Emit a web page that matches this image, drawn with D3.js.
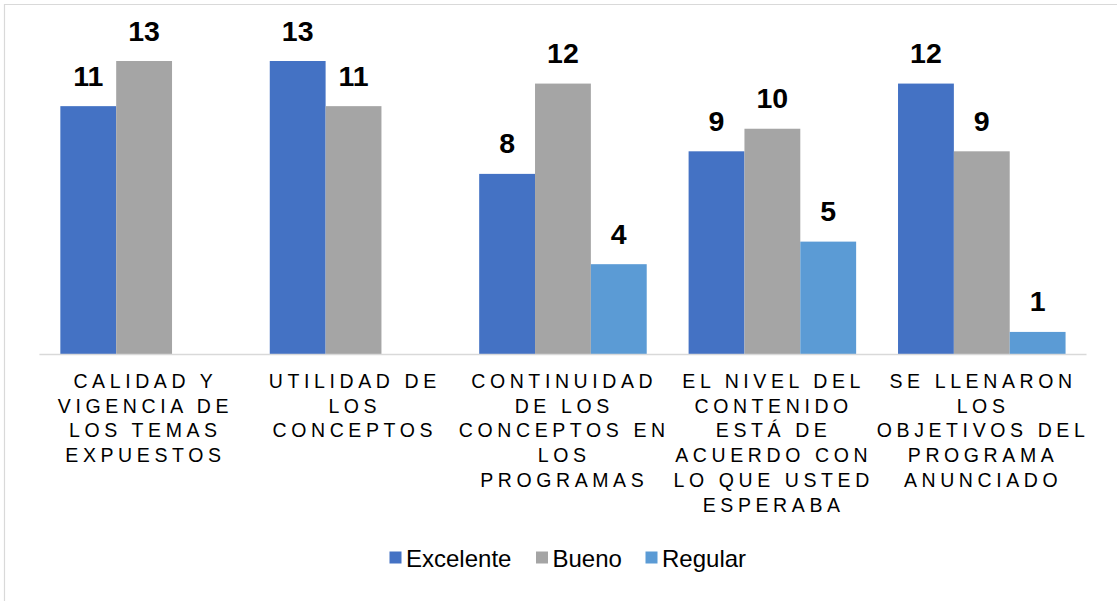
<!DOCTYPE html>
<html>
<head>
<meta charset="utf-8">
<script src="https://cdn.jsdelivr.net/npm/d3@7"></script>
<style>
  html, body { margin: 0; padding: 0; background: #ffffff; }
  svg { display: block; }
</style>
</head>
<body>
<svg id="chart" width="1117" height="601"></svg>
<script>
const categories = [
  "CALIDAD Y\nVIGENCIA DE\nLOS TEMAS\nEXPUESTOS",
  "UTILIDAD DE\nLOS\nCONCEPTOS",
  "CONTINUIDAD\nDE LOS\nCONCEPTOS EN\nLOS\nPROGRAMAS",
  "EL NIVEL DEL\nCONTENIDO\nESTÁ DE\nACUERDO CON\nLO QUE USTED\nESPERABA",
  "SE LLENARON\nLOS\nOBJETIVOS DEL\nPROGRAMA\nANUNCIADO"
];
const seriesNames = ["Excelente", "Bueno", "Regular"];
const excelente = [11, 13, 8, 9, 12];
const bueno = [13, 11, 12, 10, 9];
const regular = [null, null, 4, 5, 1];
const seriesValues = [excelente, bueno, regular];
const colors = ["#4472C4", "#A5A5A5", "#5B9BD5"];

const svg = d3.select("#chart");
const FONT = "'Liberation Sans', Arial, Helvetica, sans-serif";

// outer border (left and top visible)
svg.append("path")
  .attr("d", "M4.5,601 L4.5,4.5 L1117,4.5")
  .attr("fill", "none")
  .attr("stroke", "#d9d9d9")
  .attr("stroke-width", 1.2);

const plotLeft = 39.4, plotRight = 1086.5, baseY = 354.5;
const x0 = d3.scaleBand()
  .domain(d3.range(categories.length))
  .range([plotLeft, plotRight])
  .paddingInner(0.2)
  .paddingOuter(0.1);
const x1 = d3.scaleBand()
  .domain(d3.range(seriesNames.length))
  .range([0, x0.bandwidth()]);
const y = d3.scaleLinear().domain([0, 13]).range([baseY, 61]);

const bars = [];
categories.forEach((c, i) => {
  seriesValues.forEach((vals, s) => {
    if (vals[i] != null) bars.push({ cat: i, s: s, v: vals[i] });
  });
});

svg.append("g").selectAll("rect")
  .data(bars)
  .join("rect")
  .attr("x", d => x0(d.cat) + x1(d.s))
  .attr("y", d => y(d.v))
  .attr("width", x1.bandwidth())
  .attr("height", d => baseY - y(d.v))
  .attr("fill", d => colors[d.s]);

// baseline
svg.append("line")
  .attr("x1", plotLeft).attr("x2", plotRight)
  .attr("y1", baseY).attr("y2", baseY)
  .attr("stroke", "#d9d9d9").attr("stroke-width", 1.3);

// value labels
svg.append("g").selectAll("text")
  .data(bars)
  .join("text")
  .attr("x", d => x0(d.cat) + x1(d.s) + x1.bandwidth() / 2)
  .attr("y", d => y(d.v) - 20.5)
  .attr("text-anchor", "middle")
  .attr("font-family", FONT)
  .attr("font-weight", "bold")
  .attr("font-size", 28.5)
  .attr("fill", "#000")
  .text(d => d.v);

// category labels
const ls = 4.6;
const catG = svg.append("g");
categories.forEach((c, i) => {
  const cx = x0(i) + x0.bandwidth() / 2;
  const t = catG.append("text")
    .attr("text-anchor", "middle")
    .attr("font-family", FONT)
    .attr("font-size", 19.5)
    .attr("letter-spacing", ls)
    .attr("fill", "#000");
  c.split("\n").forEach((line, k) => {
    t.append("tspan")
      .attr("x", cx + ls / 2 - 1)
      .attr("y", 388 + k * 24.7)
      .text(line);
  });
});

// legend
const legendX = [389.5, 536, 645.5];
const leg = svg.append("g");
seriesNames.forEach((n, s) => {
  leg.append("rect")
    .attr("x", legendX[s]).attr("y", 551.5)
    .attr("width", 12).attr("height", 12)
    .attr("fill", colors[s]);
  leg.append("text")
    .attr("x", legendX[s] + 16.5)
    .attr("y", 566.5)
    .attr("font-family", FONT)
    .attr("font-size", 24)
    .attr("fill", "#000")
    .text(n);
});
</script>
</body>
</html>
